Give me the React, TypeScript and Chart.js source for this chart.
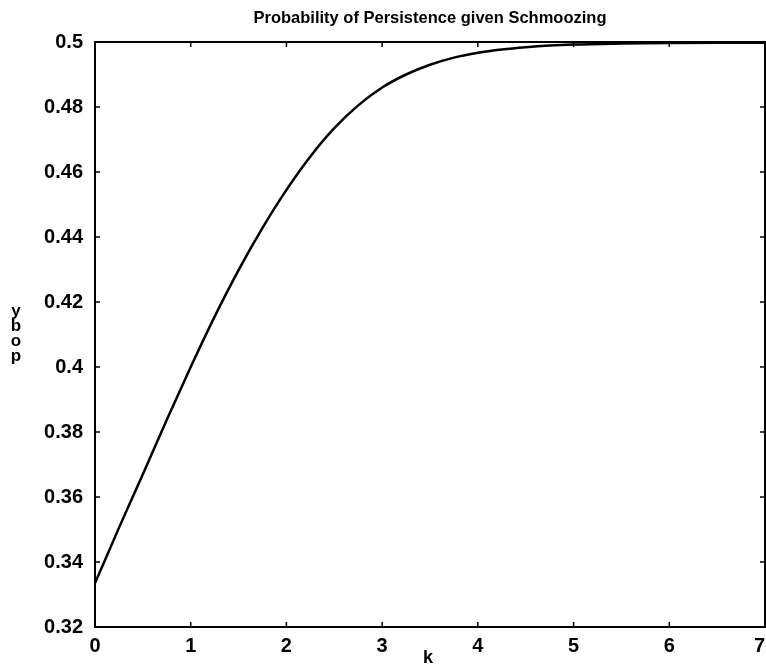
import React, { useEffect, useRef } from "react";
import { Chart, registerables } from "chart.js";

Chart.register(...registerables);

const TITLE = "Probability of Persistence given Schmoozing";
const X_LABEL = "k";
const Y_LABEL_CHARS = ["y", "b", "o", "p"];

const kValues = [0, 0.25, 0.5, 0.75, 1.0, 1.25, 1.5, 1.75, 2.0, 2.25, 2.5, 2.75, 3.0, 3.25, 3.5, 3.75, 4.0, 4.25, 4.5, 4.75, 5.0, 5.5, 6.0, 6.5, 7.0];
const pValues = [0.3335, 0.3505, 0.367, 0.3838, 0.4, 0.4155, 0.4298, 0.4428, 0.4545, 0.4648, 0.4735, 0.4805, 0.486, 0.49, 0.493, 0.4952, 0.4967, 0.4977, 0.4984, 0.4989, 0.4992, 0.4995, 0.4997, 0.4998, 0.4998];

const X_MIN = 0;
const X_MAX = 7;
const Y_MIN = 0.32;
const Y_MAX = 0.5;
const Y_STEP = 0.02;

const FONT = "'Liberation Sans', Arial, sans-serif";

const framePlugin = {
  id: "frame",
  afterDatasetsDraw(chart: any) {
    const { ctx, chartArea, scales, width } = chart;
    const { left, right, top, bottom } = chartArea;
    const xs = scales.x;
    const ys = scales.y;
    ctx.save();
    ctx.strokeStyle = "#000";
    ctx.lineWidth = 2;
    ctx.strokeRect(left, top, right - left, bottom - top);
    ctx.lineWidth = 1.5;
    const tl = 5;
    xs.ticks.forEach((t: any) => {
      const px = xs.getPixelForValue(t.value);
      ctx.beginPath();
      ctx.moveTo(px, bottom);
      ctx.lineTo(px, bottom - tl);
      ctx.moveTo(px, top);
      ctx.lineTo(px, top + tl);
      ctx.stroke();
    });
    ys.ticks.forEach((t: any) => {
      const py = ys.getPixelForValue(t.value);
      ctx.beginPath();
      ctx.moveTo(left, py);
      ctx.lineTo(left + tl, py);
      ctx.moveTo(right, py);
      ctx.lineTo(right - tl, py);
      ctx.stroke();
    });
    ctx.fillStyle = "#000";
    ctx.textBaseline = "middle";
    // x tick labels (kept inside the canvas)
    ctx.font = `bold 20px ${FONT}`;
    xs.ticks.forEach((t: any) => {
      const px = xs.getPixelForValue(t.value);
      const label = String(t.label);
      const w = ctx.measureText(label).width;
      const cx = Math.min(px, width - 1 - w / 2);
      ctx.textAlign = "center";
      ctx.fillText(label, cx, bottom + 19);
    });
    ctx.textAlign = "center";
    // title
    ctx.font = `bold 16.5px ${FONT}`;
    ctx.fillText(TITLE, (left + right) / 2, 18);
    // x label
    ctx.font = `bold 18px ${FONT}`;
    ctx.fillText(X_LABEL, (left + right) / 2 - 2, 658);
    // y label
    ctx.font = `bold 17px ${FONT}`;
    const yStart = 311;
    Y_LABEL_CHARS.forEach((c, i) => {
      ctx.fillText(c, 16, yStart + i * 15);
    });
    ctx.restore();
  },
};

export default function App() {
  const ref = useRef<HTMLCanvasElement | null>(null);

  useEffect(() => {
    document.body.style.margin = "0";
    const canvas = ref.current!;
    const chart = new Chart(canvas, {
      type: "line",
      data: {
        datasets: [
          {
            data: kValues.map((k, i) => ({ x: k, y: pValues[i] })),
            borderColor: "#000",
            borderWidth: 2.5,
            pointRadius: 0,
            fill: false,
            cubicInterpolationMode: "monotone",
          },
        ],
      },
      options: {
        responsive: false,
        animation: false,
        layout: { padding: { left: 0, right: 1, top: 42, bottom: 0 } },
        plugins: {
          legend: { display: false },
          tooltip: { enabled: false },
          title: { display: false },
        },
        scales: {
          x: {
            type: "linear",
            min: X_MIN,
            max: X_MAX,
            grid: { display: false },
            border: { display: false },
            ticks: {
              stepSize: 1,
              color: "rgba(0,0,0,0)",
              font: { family: FONT, size: 20, weight: "bold" },
              padding: 0,
              maxRotation: 0,
            },
            afterFit: (scale: any) => {
              scale.height = 37;
              scale.paddingRight = 0;
              scale.paddingLeft = 0;
            },
          },
          y: {
            type: "linear",
            min: Y_MIN,
            max: Y_MAX,
            grid: { display: false },
            border: { display: false },
            ticks: {
              stepSize: Y_STEP,
              color: "#000",
              font: { family: FONT, size: 20, weight: "bold" },
              padding: 4,
              callback: (v: any) => String(Number(Number(v).toFixed(2))),
            },
            afterFit: (scale: any) => {
              scale.width = 95;
              scale.paddingTop = 0;
              scale.paddingBottom = 0;
            },
          },
        },
      },
      plugins: [framePlugin],
    });
    return () => chart.destroy();
  }, []);

  return (
    <div style={{ position: "absolute", left: 0, top: 0, width: 766, height: 664, background: "#fff" }}>
      <canvas ref={ref} width={766} height={664} style={{ width: 766, height: 664 }} />
    </div>
  );
}
